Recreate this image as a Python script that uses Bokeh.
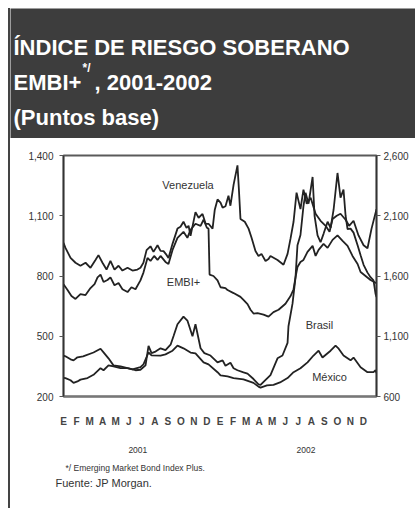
from bokeh.plotting import figure
from bokeh.models import Range1d, LinearAxis, FixedTicker, NumeralTickFormatter, Label
from bokeh.layouts import column
from bokeh.embed import file_html
from bokeh.resources import INLINE

# ---------------- data ----------------
title_line1 = "ÍNDICE DE RIESGO SOBERANO"
title_line2a = "EMBI+"
title_sup = "*/"
title_line2b = ", 2001-2002"
title_line3 = "(Puntos base)"
footnote = "*/ Emerging Market Bond Index Plus."
source = "Fuente: JP Morgan."

month_letters = ["E", "F", "M", "A", "M", "J", "J", "A", "S", "O", "N", "D"] * 2
month_ticks = list(range(24))
years = ["2001", "2002"]
year_pos = [5.7, 18.6]
left_ticks = [200, 500, 800, 1100, 1400]
right_ticks = [600, 1100, 1600, 2100, 2600]

# x = months elapsed since 1 Jan 2001
venezuela_m = [0, 0.15, 0.54, 0.92, 1.30, 1.69, 2.07, 2.45, 2.68, 2.99, 3.30, 3.60, 3.91, 4.22, 4.52,
               4.91, 5.29, 5.67, 5.90, 6.13, 6.37, 6.67, 6.90, 7.21, 7.44, 7.67, 7.90, 8.05, 8.36, 8.74,
               8.97, 9.20, 9.43, 9.59, 9.74, 10.12, 10.36, 10.66, 10.90, 11.12, 11.43, 11.60, 11.81, 12.04, 12.20,
               12.42, 12.65, 12.80, 13.04, 13.34, 13.45, 13.57, 13.90, 14.19, 14.42, 14.72, 14.95, 15.18, 15.49, 15.72,
               15.87, 16.41, 16.87, 17.18, 17.41, 17.64, 17.87, 18.17, 18.40, 18.65, 18.95, 19.33, 19.71, 20.10, 20.40,
               20.63, 20.95, 21.24, 21.63, 21.90, 22.24, 22.62, 23.01, 23.31, 23.62, 24.0]
venezuela_v = [965, 940, 890, 866, 851, 866, 841, 880, 904, 866, 832, 875, 832, 851, 827,
               841, 827, 832, 841, 866, 929, 948, 920, 953, 925, 924, 905, 890, 960, 1036,
               1045, 1070, 1040, 1050, 1000, 1118, 1090, 1109, 1060, 1060, 1036, 1130, 1181, 1165, 1140,
               1147, 1200, 1150, 1254, 1351, 1230, 1084, 1070, 1036, 990, 924, 900, 910, 875, 885,
               900, 880, 856, 910, 987, 1070, 1215, 1133, 1230, 1160, 1190, 1110, 1075, 1050, 1020,
               1084, 1100, 1110, 1080, 1050, 1075, 1002, 953, 938, 1036, 1133]

embi_m = [0, 0.31, 0.61, 0.92, 1.30, 1.69, 2.07, 2.38, 2.61, 2.84, 3.07, 3.37, 3.60, 3.91, 4.22,
          4.52, 4.91, 5.21, 5.52, 5.90, 6.13, 6.44, 6.67, 6.95, 7.21, 7.44, 7.82, 8.05, 8.36, 8.74,
          9.20, 9.50, 9.74, 10.12, 10.51, 10.74, 11.00, 11.12, 11.20, 11.50, 11.81, 12.04, 12.42, 12.58, 13.04,
          13.57, 13.80, 14.11, 14.34, 14.57, 14.88, 15.34, 15.72, 16.10, 16.49, 17.02, 17.41, 17.64, 17.79, 17.94,
          18.17, 18.40, 18.71, 19.10, 19.33, 19.56, 19.94, 20.25, 20.63, 21.01, 21.40, 21.78, 22.16, 22.55, 22.78,
          23.16, 23.54, 24.0]
embi_v = [759, 730, 700, 686, 710, 705, 740, 760, 793, 807, 770, 780, 793, 754, 765,
          734, 720, 744, 734, 778, 817, 890, 875, 900, 880, 900, 870, 860, 930, 990,
          1020, 990, 1030, 1060, 1050, 1080, 1040, 1036, 807, 800, 778, 744, 740, 730, 715,
          696, 681, 660, 632, 613, 615, 608, 598, 620, 632, 662, 700, 734, 793, 845,
          870, 880, 920, 950, 900, 930, 960, 940, 980, 1002, 975, 950, 900, 860, 820,
          800, 780, 764]

brasil_m = [0, 0.15, 0.54, 0.77, 1.07, 1.30, 1.84, 2.30, 2.84, 3.07, 3.45, 3.83, 4.37, 4.91, 5.52,
            5.90, 6.29, 6.52, 6.75, 7.00, 7.44, 7.82, 8.21, 8.44, 8.74, 9.20, 9.50, 9.89, 10.12, 10.51,
            10.80, 11.27, 11.81, 12.20, 12.42, 12.80, 13.04, 13.34, 13.80, 14.11, 14.57, 14.95, 15.11, 15.34, 15.87,
            16.41, 16.79, 17.18, 17.25, 17.56, 17.79, 17.94, 18.17, 18.40, 18.56, 18.79, 19.10, 19.25, 19.48, 19.71,
            19.94, 20.25, 20.48, 20.71, 21.01, 21.24, 21.47, 21.63, 21.78, 22.01, 22.24, 22.55, 22.78, 23.01, 23.31,
            23.54, 23.77, 23.93, 24.0]
brasil_v = [755, 753, 735, 713, 725, 740, 753, 780, 835, 818, 858, 850, 835, 835, 818,
            822, 858, 1020, 960, 970, 1000, 985, 1030, 1102, 1200, 1263, 1230, 1100, 1200, 1000,
            960, 940, 883, 900, 855, 880, 835, 818, 800, 790, 745, 700, 697, 722, 778,
            917, 940, 1045, 1183, 1370, 1588, 1855, 1940, 2180, 2290, 2200, 2422, 2100, 1937, 1880,
            1950, 2050, 2000, 2150, 2455, 2250, 2317, 2100, 1990, 1993, 1960, 1855, 1773, 1693, 1628,
            1590, 1563, 1450, 1427]

mexico_m = [0, 0.15, 0.54, 0.77, 1.07, 1.50, 2.30, 2.84, 3.07, 3.45, 3.83, 4.37, 4.91, 5.29, 5.90,
            6.13, 6.52, 6.75, 7.44, 7.82, 8.36, 8.74, 9.20, 9.74, 10.12, 10.74, 11.12, 11.81, 12.04, 12.58,
            13.04, 13.80, 14.57, 14.95, 15.11, 15.60, 16.10, 16.60, 17.18, 17.64, 18.17, 18.71, 19.17, 19.56, 19.86,
            20.48, 20.86, 21.10, 21.47, 22.01, 22.24, 22.78, 23.31, 23.77, 23.93, 24.0]
mexico_v = [404, 400, 385, 380, 395, 400, 419, 438, 420, 390, 355, 350, 341, 335, 346,
            360, 419, 405, 404, 410, 428, 453, 440, 419, 415, 370, 360, 321, 305, 300,
            292, 285, 268, 249, 244, 255, 258, 270, 292, 321, 341, 370, 404, 428, 394,
            428, 453, 438, 404, 380, 394, 346, 321, 321, 331, 317]

series_labels = ["Venezuela", "EMBI+", "Brasil", "México"]
series_label_pos = [(9.55, 1254), (9.2, 768), (19.63, 555), (20.4, 297)]

# ---------------- style ----------------
FONT = "Liberation Sans"
DARK = "#3d3d3d"
INK = "#222222"
W = 405


def bare(height, bg):
    f = figure(width=W, height=height, x_range=Range1d(0, W), y_range=Range1d(height, 0),
               x_axis_type=None, y_axis_type=None, toolbar_location=None, output_backend="svg",
               min_border=0, outline_line_color=None,
               background_fill_color=bg, border_fill_color=bg)
    f.frame_align = False
    return f


# ---------------- header ----------------
hdr = bare(130, DARK)


def hlabel(txt, x, y, size):
    hdr.add_layout(Label(x=x, y=y, text=txt, text_color="white", text_font=FONT,
                         text_font_style="bold", text_font_size=size,
                         text_baseline="alphabetic", text_align="left"))


hlabel(title_line1, 3, 39, "22px")
hlabel(title_line2a, 3, 74, "22px")
hlabel(title_sup, 72, 59, "12px")
hlabel(title_line2b, 84, 74, "22px")
hlabel(title_line3, 3, 109, "22px")

# ---------------- chart ----------------
p = figure(width=W, height=317, x_range=Range1d(0, 24), y_range=Range1d(200, 1400),
           toolbar_location=None, output_backend="svg",
           min_border_left=53, min_border_right=39, min_border_top=17, min_border_bottom=53,
           background_fill_color="white", border_fill_color="white",
           outline_line_color="#5a5a5a", outline_line_width=2)
p.frame_align = False
p.grid.visible = False
p.extra_y_ranges = {"brasil": Range1d(600, 2600)}

yl = p.yaxis[0]
yl.ticker = FixedTicker(ticks=left_ticks)
yl.formatter = NumeralTickFormatter(format="0,0")
yl.major_tick_out = 4
yl.major_tick_in = 0
yl.minor_tick_line_color = None
yl.major_label_standoff = 6
yl.axis_line_color = "#333333"
yl.axis_line_width = 1.5
yl.major_tick_line_color = "#555555"
yl.major_label_text_font = FONT
yl.major_label_text_font_size = "10px"
yl.major_label_text_color = "#333333"

yr = LinearAxis(y_range_name="brasil", ticker=FixedTicker(ticks=right_ticks),
                formatter=NumeralTickFormatter(format="0,0"))
yr.major_tick_out = 4
yr.major_tick_in = 0
yr.minor_tick_line_color = None
yr.major_label_standoff = 3
yr.axis_line_color = "#333333"
yr.axis_line_width = 1.5
yr.major_tick_line_color = "#555555"
yr.major_label_text_font = FONT
yr.major_label_text_font_size = "10px"
yr.major_label_text_color = "#333333"
p.add_layout(yr, "right")

xa = p.xaxis[0]
xa.ticker = FixedTicker(ticks=month_ticks)
xa.major_label_overrides = {t: l for t, l in zip(month_ticks, month_letters)}
xa.major_tick_line_color = None
xa.minor_tick_line_color = None
xa.axis_line_color = "#777777"
xa.axis_line_width = 2
xa.major_label_standoff = 13
xa.major_label_text_font = FONT
xa.major_label_text_font_style = "bold"
xa.major_label_text_font_size = "10px"
xa.major_label_text_color = "#444444"

ya = LinearAxis(ticker=FixedTicker(ticks=year_pos),
                major_label_overrides={t: l for t, l in zip(year_pos, years)})
ya.axis_line_color = None
ya.major_tick_line_color = None
ya.minor_tick_line_color = None
ya.major_label_standoff = 11
ya.major_label_text_font = FONT
ya.major_label_text_font_size = "8.5px"
ya.major_label_text_color = "#333333"
p.add_layout(ya, "below")

for xs, ys, rng in [(venezuela_m, venezuela_v, "default"), (embi_m, embi_v, "default"),
                    (mexico_m, mexico_v, "default"), (brasil_m, brasil_v, "brasil")]:
    p.line(x=xs, y=ys, line_color=INK, line_width=1.8, y_range_name=rng)

for txt, (lx, ly) in zip(series_labels, series_label_pos):
    p.add_layout(Label(x=lx, y=ly, text=txt, text_font=FONT, text_font_size="11px",
                       text_color="#333333", text_align="center", text_baseline="middle"))

# ---------------- footer ----------------
ftr = bare(53, "white")
ftr.add_layout(Label(x=55, y=12, text=footnote, text_font=FONT, text_font_size="8.5px",
                     text_color="#333333", text_baseline="middle", text_align="left"))
ftr.add_layout(Label(x=45, y=27, text=source, text_font=FONT, text_font_size="11px",
                     text_color="#333333", text_baseline="middle", text_align="left"))

layout = column(hdr, p, ftr, spacing=0, margin=(8, 0, 0, 8),
                styles={"border-left": "2px solid #444444"})

open("out.html", "w").write(file_html(layout, INLINE))
